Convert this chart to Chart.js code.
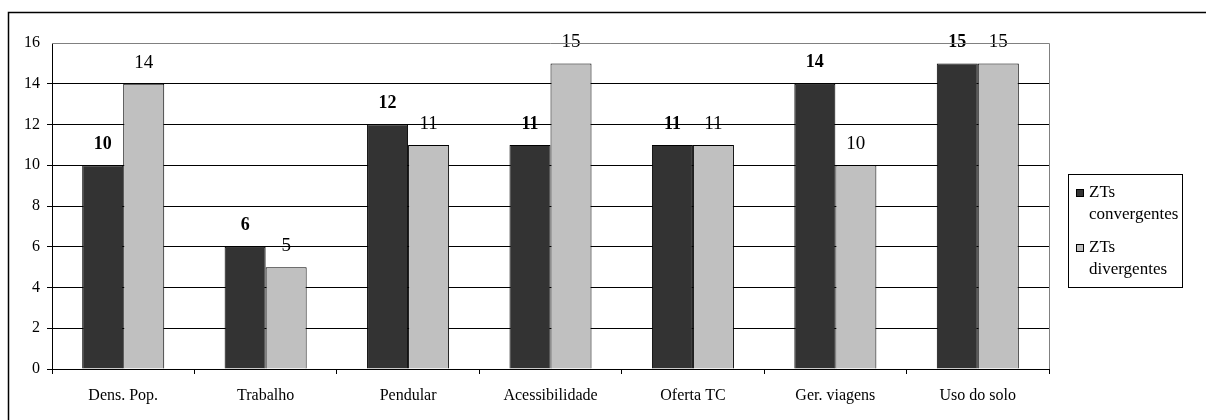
<!DOCTYPE html>
<html>
<head>
<meta charset="utf-8">
<script src="https://cdn.jsdelivr.net/npm/chart.js@4"></script>
<style>
  html, body { margin: 0; padding: 0; background: #fff; }
  #wrap { width: 1206px; height: 420px; }
</style>
</head>
<body>
<div id="wrap"><canvas id="mChart" width="1206" height="420"></canvas></div>
<script>
const categories = ['Dens. Pop.', 'Trabalho', 'Pendular', 'Acessibilidade', 'Oferta TC', 'Ger. viagens', 'Uso do solo'];
const convergentes = [10, 6, 12, 11, 11, 14, 15];
const divergentes = [14, 5, 11, 15, 11, 10, 15];
const seriesNames = [['ZTs', 'convergentes'], ['ZTs', 'divergentes']];

const serif = '"Liberation Serif", "Times New Roman", serif';

// numbers above the bars (first series bold)
const valueLabels = {
    id: 'valueLabels',
    afterDatasetsDraw(chart) {
        const c = chart.ctx;
        c.save();
        c.fillStyle = '#000';
        c.textAlign = 'center';
        c.textBaseline = 'middle';
        chart.data.datasets.forEach((ds, i) => {
            c.font = (i === 0 ? 'bold 18px ' : '19px ') + serif;
            chart.getDatasetMeta(i).data.forEach((bar, j) => {
                c.fillText(ds.data[j], bar.x, bar.y - 21);
            });
        });
        c.restore();
    }
};

// frame, grey plot edges and the boxed legend
const frame = {
    id: 'frame',
    beforeDraw(chart) {
        const c = chart.ctx;
        c.save();
        c.fillStyle = '#fff';
        c.fillRect(0, 0, chart.width, chart.height);
        c.restore();
    },
    afterDraw(chart) {
        const c = chart.ctx;
        const a = chart.chartArea;
        c.save();
        c.strokeStyle = '#000';
        c.lineWidth = 1.5;
        c.beginPath();
        c.moveTo(8.5, 430);
        c.lineTo(8.5, 12.5);
        c.lineTo(1220, 12.5);
        c.stroke();

        c.strokeStyle = '#808080';
        c.lineWidth = 1;
        c.beginPath();
        c.moveTo(a.left, a.top + 0.5);
        c.lineTo(a.right + 0.5, a.top + 0.5);
        c.lineTo(a.right + 0.5, a.bottom);
        c.stroke();

        // legend
        c.strokeStyle = '#000';
        c.strokeRect(1068.5, 174.5, 114, 113);
        c.font = '17px ' + serif;
        c.textBaseline = 'middle';
        c.textAlign = 'left';
        const ys = [[193, 215], [248, 270]];
        chart.data.datasets.forEach((ds, i) => {
            c.fillStyle = ds.backgroundColor;
            c.fillRect(1076, ys[i][0] - 4, 8, 8);
            c.strokeRect(1076.5, ys[i][0] - 3.5, 7, 7);
            c.fillStyle = '#000';
            c.fillText(seriesNames[i][0], 1089, ys[i][0]);
            c.fillText(seriesNames[i][1], 1089, ys[i][1]);
        });
        c.restore();
    }
};

var ct = document.getElementById('mChart').getContext('2d');

var mChart = new Chart(ct, {
    type: 'bar',
    data: {
        labels: categories,
        datasets: [{
            label: 'ZTs convergentes',
            data: convergentes,
            backgroundColor: '#333333',
            borderColor: '#000000',
            borderWidth: 1
        }, {
            label: 'ZTs divergentes',
            data: divergentes,
            backgroundColor: '#c0c0c0',
            borderColor: '#000000',
            borderWidth: 1
        }]
    },
    options: {
        responsive: false,
        animation: false,
        layout: { padding: { left: 10, top: 43, right: 157, bottom: 0 } },
        plugins: {
            legend: { display: false },
            tooltip: { enabled: false }
        },
        datasets: {
            bar: { barPercentage: 1, categoryPercentage: 0.576 }
        },
        scales: {
            x: {
                afterFit(s) { s.height = 51; },
                grid: { drawOnChartArea: false, tickLength: 5, color: '#000' },
                border: { color: '#000', width: 1 },
                ticks: { color: '#000', font: { family: serif, size: 16 }, padding: 12, maxRotation: 0 }
            },
            y: {
                min: 0,
                max: 16,
                afterFit(s) { s.width = 42; },
                grid: {
                    tickLength: 5,
                    color: (ctx) => ctx.tick && ctx.tick.value === 16 ? 'rgba(0,0,0,0)' : '#000'
                },
                border: { color: '#000', width: 1 },
                ticks: { stepSize: 2, color: '#000', font: { family: serif, size: 16 }, padding: 7 }
            }
        }
    },
    plugins: [frame, valueLabels]
});
</script>
</body>
</html>
